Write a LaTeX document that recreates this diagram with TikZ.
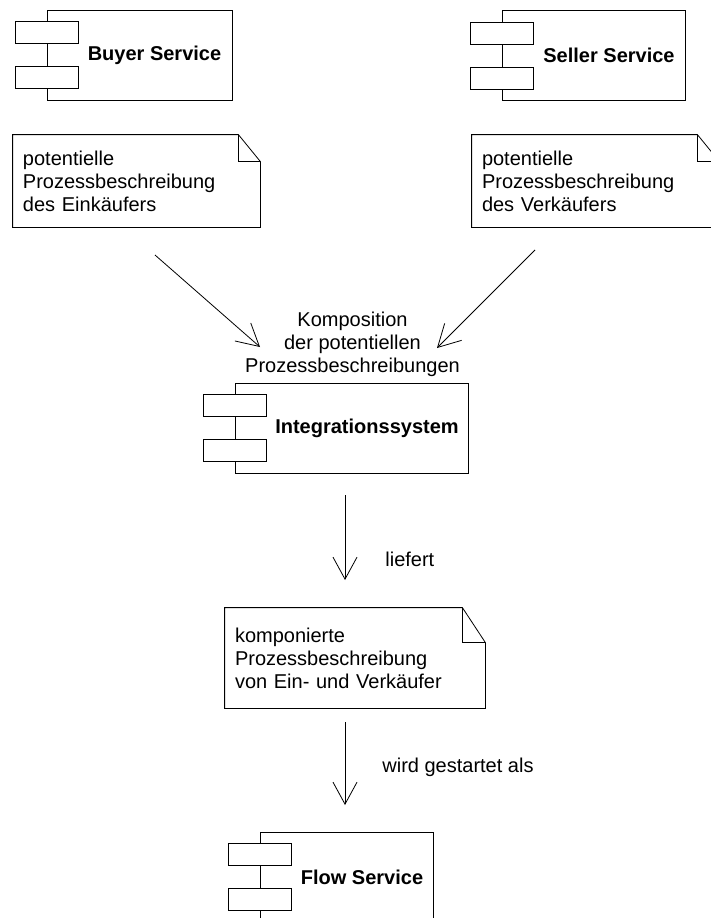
\documentclass[tikz,border=0pt]{standalone}
\usepackage{fontspec}
\setmainfont{Liberation Sans}
\usetikzlibrary{arrows.meta}

\begin{document}
\begin{tikzpicture}[x=1pt,y=-1pt,line width=0.8pt,
        font=\fontsize{20}{23}\selectfont,
        comp/.style={draw,rectangle,minimum height=90pt,inner sep=0pt},
        port/.style={draw,fill=white,rectangle,minimum width=63pt,minimum height=22pt,inner sep=0pt},
        compname/.style={font=\fontsize{20}{23}\selectfont\bfseries,inner sep=0pt},
        note/.style={rectangle,align=left,inner xsep=10pt,inner ysep=0pt,text width=227pt,minimum height=92pt},
        flow/.style={-{Straight Barb[length=22pt,width=24pt]}}]

            \useasboundingbox (0,0) rectangle (711,918);
            \clip (0,0) rectangle (711,918);

            \node[comp,minimum width=185pt] (buyer) at (139.5,55) {};
            \node[comp,minimum width=183pt] (seller) at (593.5,55.5) {};
            \node[comp,minimum width=233pt] (integration) at (351.5,428) {};
            \node[comp,minimum width=173pt] (flowsvc) at (346.5,877) {};

            \foreach \c in {buyer,seller,integration,flowsvc} {
                \node[port] (\c-a) at ([yshift=22.5pt]\c.west) {};
                \node[port] (\c-b) at ([yshift=-22.5pt]\c.west) {};
            }

            \node[compname] (buyer-name) at ([xshift=15pt]buyer.center) {Buyer Service};
            \node[compname] (seller-name) at ([xshift=15.5pt]seller.center) {Seller Service};
            \node[compname] (integration-name) at ([xshift=15.5pt]integration.center) {Integrationssystem};
            \node[compname] (flowsvc-name) at ([xshift=15.5pt]flowsvc.center) {Flow Service};

            \node[note] (einkauf) at (136.5,181) {potentielle\\Prozessbeschreibung\\des Einkäufers};
            \node[note] (verkauf) at (595.5,181) {potentielle\\Prozessbeschreibung\\des Verkäufers};
            \node[note,text width=240pt,minimum height=100pt] (ergebnis) at (355,658)
                {komponierte\\Prozessbeschreibung\\von Ein- und Verkäufer};

            \foreach \n/\fx/\fy in {einkauf/22/27, verkauf/22/27, ergebnis/23/35} {
                \draw (\n.north west) -- ([xshift=-\fx pt]\n.north east)
                    -- ([yshift=-\fy pt]\n.north east) -- (\n.south east)
                    -- (\n.south west) -- cycle;
                \draw ([xshift=-\fx pt]\n.north east) |- ([yshift=-\fy pt]\n.north east);
            }

            \node[align=center,inner sep=0pt] (komposition) at (352.5,344)
                {Komposition\\der potentiellen\\Prozessbeschreibungen};

            \coordinate (einkauf-out) at (155,255);
            \coordinate (verkauf-out) at (535,250);
            \coordinate (integration-in-l) at (260,347);
            \coordinate (integration-in-r) at (437,348);
            \coordinate (integration-out) at (345,495);
            \coordinate (ergebnis-in) at (345,580);
            \coordinate (ergebnis-out) at (345,722);
            \coordinate (flowsvc-in) at (345,805);

            \draw[flow] (einkauf-out) -- (integration-in-l);
            \draw[flow] (verkauf-out) -- (integration-in-r);
            \draw[flow] (integration-out) -- (ergebnis-in);
            \draw[flow] (ergebnis-out) -- (flowsvc-in);

            \node[anchor=base west,inner sep=0pt] (liefert) at (385,566) {liefert};
            \node[anchor=base west,inner sep=0pt] (gestartet) at (382,772) {wird gestartet als};
        \end{tikzpicture}
\end{document}
